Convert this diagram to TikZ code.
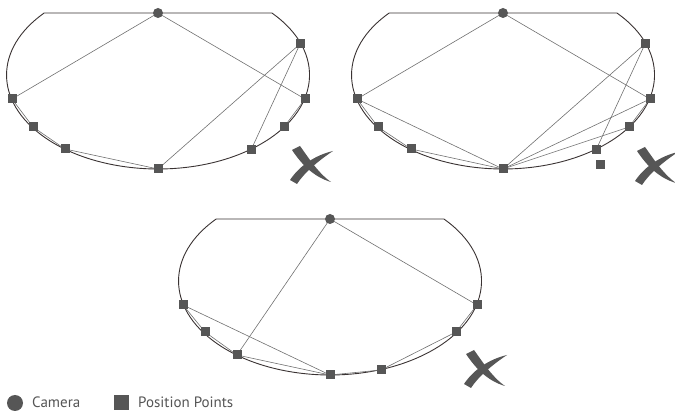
\documentclass[tikz,border=0pt]{standalone}
\usepackage{fontspec}
\setmainfont{PT Sans}
\usetikzlibrary{backgrounds}
\definecolor{ptcol}{HTML}{565656}
\definecolor{linecol}{HTML}{707070}
\definecolor{outcol}{HTML}{3A3333}
\definecolor{txtcol}{HTML}{555555}
\tikzset{
  sq/.style={rectangle, fill=ptcol, minimum size=9pt, inner sep=0pt},
  cam/.style={circle, fill=ptcol, minimum size=10pt, inner sep=0pt},
  link/.style={draw=linecol, line width=0.6pt},
  outline/.style={draw=outcol, line width=0.9pt},
  legtext/.style={anchor=base west, inner sep=0pt, text=txtcol, font=\fontsize{15}{18}\selectfont},
  xmark/.pic={
    \fill[ptcol] (-18,-15) .. controls (-8,0) and (4,12) .. (21,17)
                 .. controls (8,8) and (-2,-8) .. (-10,-19) -- cycle;
    \fill[ptcol] (-20,15) .. controls (-10,0) and (6,-10) .. (23,-14)
                 .. controls (8,-4) and (-6,8) .. (-13,19) -- cycle;
  }
}
\begin{document}
\begin{tikzpicture}[x=1pt,y=-1pt]
\useasboundingbox (0,0) rectangle (675,411);

% ---------- diagram 1 (centre 158,75)
\node[cam] (c1) at (158,13) {};
\node[sq] (a1) at (300,44) {};
\node[sq] (a2) at (12,99) {};
\node[sq] (a3) at (305,99) {};
\node[sq] (a4) at (33,127) {};
\node[sq] (a5) at (284,127) {};
\node[sq] (a6) at (65,149) {};
\node[sq] (a7) at (251,150) {};
\node[sq] (a8) at (158,169) {};
\pic at (310,165) {xmark};

% ---------- diagram 2 (centre 503,75)
\node[cam] (c2) at (503,13) {};
\node[sq] (b1) at (645,44) {};
\node[sq] (b2) at (357,99) {};
\node[sq] (b3) at (650,99) {};
\node[sq] (b4) at (378,127) {};
\node[sq] (b5) at (629,127) {};
\node[sq] (b6) at (411,149) {};
\node[sq] (b7) at (596,150) {};
\node[sq] (b8) at (503,169) {};
\node[sq] (b9) at (600,165) {};
\pic at (655,166) {xmark};

% ---------- diagram 3 (centre 330,281)
\node[cam] (c3) at (330,219) {};
\node[sq] (d2) at (183,305) {};
\node[sq] (d3) at (477,305) {};
\node[sq] (d4) at (205,332) {};
\node[sq] (d5) at (456,332) {};
\node[sq] (d6) at (237,355) {};
\node[sq] (d8) at (330,375) {};
\node[sq] (d9) at (381,370) {};
\pic at (484,369) {xmark};

% ---------- legend
\node[circle, fill=ptcol, minimum size=16pt, inner sep=0pt] (lc) at (15,403) {};
\node[legtext] (lct) at (32,407.5) {Camera};
\node[rectangle, fill=ptcol, minimum size=15pt, inner sep=0pt] (ls) at (121.5,403) {};
\node[legtext] (lst) at (138,407.5) {Position Points};

\begin{scope}[on background layer]
  % outlines
  \foreach \cx/\cy in {158/75, 503/75, 330/281}{
    \draw[outline] (\cx+113.9,\cy-62) arc[start angle=-41.27, end angle=221.27, x radius=151.5, y radius=94] -- cycle;
  }
  % diagram 1 links
  \draw[link] (c1.center) -- (a2.center);
  \draw[link] (c1.center) -- (a3.center);
  \draw[link] (a1.center) -- (a8.center);
  \draw[link] (a1.center) -- (a7.center);
  \draw[link] (a2.center) -- (a4.center) -- (a6.center) -- (a8.center);
  \draw[link] (a3.center) -- (a5.center);
  % diagram 2 links
  \draw[link] (c2.center) -- (b2.center);
  \draw[link] (c2.center) -- (b3.center);
  \draw[link] (b2.center) -- (b8.center);
  \draw[link] (b6.center) -- (b8.center);
  \draw[link] (b1.center) -- (b8.center);
  \draw[link] (b3.center) -- (b8.center);
  \draw[link] (b5.center) -- (b8.center);
  \draw[link] (b1.center) -- (b7.center);
  \draw[link] (b2.center) -- (b4.center) -- (b6.center);
  \draw[link] (b3.center) -- (b5.center);
  % diagram 3 links
  \draw[link] (c3.center) -- (d6.center);
  \draw[link] (c3.center) -- (d3.center);
  \draw[link] (d2.center) -- (d8.center);
  \draw[link] (d2.center) -- (d4.center) -- (d6.center) -- (d8.center);
  \draw[link] (d8.center) -- (d9.center) -- (d5.center) -- (d3.center);
\end{scope}
\end{tikzpicture}
\end{document}
